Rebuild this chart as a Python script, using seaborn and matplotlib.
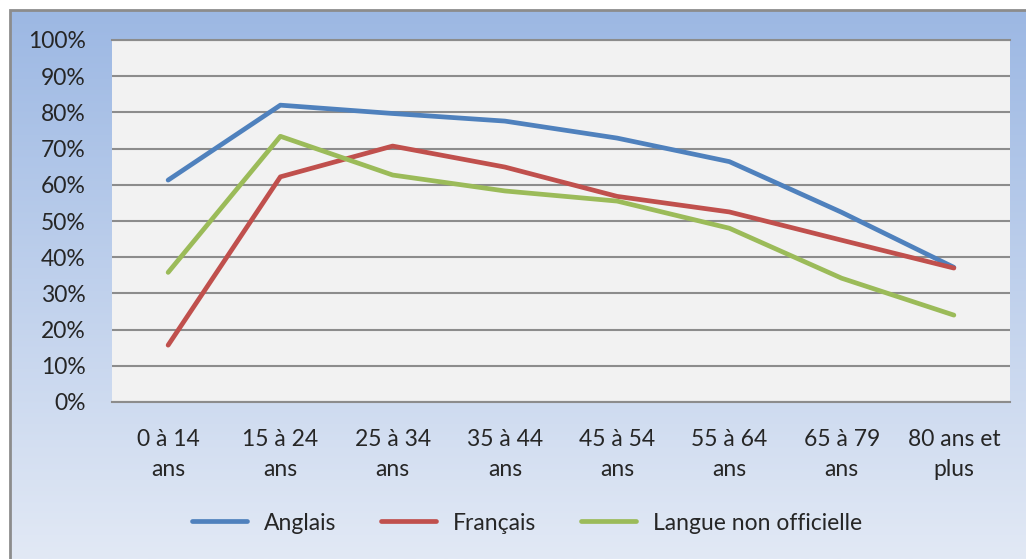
import numpy as np
import pandas as pd
import seaborn as sns
import matplotlib.pyplot as plt
from matplotlib.patches import Rectangle

age_groups = ['0 à 14\nans', '15 à 24\nans', '25 à 34\nans', '35 à 44\nans',
              '45 à 54\nans', '55 à 64\nans', '65 à 79\nans', '80 ans et\nplus']
anglais = [61.3, 82.0, 79.7, 77.6, 72.9, 66.4, 52.4, 37.2]
francais = [15.7, 62.2, 70.7, 64.9, 56.8, 52.5, 44.7, 37.0]
non_officielle = [35.8, 73.4, 62.7, 58.3, 55.5, 48.0, 34.2, 24.0]
series_names = ['Anglais', 'Français', 'Langue non officielle']
colors = ['#4F81BD', '#C0504D', '#9BBB59']

df = pd.DataFrame({
    'groupe': list(range(len(age_groups))) * 3,
    'valeur': anglais + francais + non_officielle,
    'langue': [s for s in series_names for _ in age_groups],
})

sns.set_style('white')
plt.rcParams['font.family'] = ['Lato', 'DejaVu Sans']
FS = 16.5

W, H = 1026, 559
fig = plt.figure(figsize=(W / 100, H / 100), dpi=100)

# background gradient
bg = fig.add_axes([0, 0, 1, 1], zorder=-10)
grad = np.linspace(0, 1, 256).reshape(-1, 1)
top = np.array([0x9B, 0xB7, 0xE3]) / 255
bot = np.array([0xE2, 0xE9, 0xF5]) / 255
img = top + (bot - top) * grad[:, :, None]
bg.imshow(img, aspect='auto', extent=[0, 1, 0, 1])
bg.set_xlim(0, 1)
bg.set_ylim(0, 1)
bg.axis('off')
fig.patches.append(Rectangle((10 / W, -0.1), 1.2, 1 - 10 / H + 0.1, transform=fig.transFigure,
                             fill=False, edgecolor='#8C8C8C', linewidth=2))
# white margin outside frame
fig.patches.append(Rectangle((0, 0), 9 / W, 1, transform=fig.transFigure, color='white', zorder=-5))
fig.patches.append(Rectangle((0, 1 - 9 / H), 1, 9 / H, transform=fig.transFigure, color='white', zorder=-5))

ax = fig.add_axes([112 / W, 1 - 402 / H, 898 / W, 362 / H])
ax.set_facecolor('#F2F2F2')
sns.lineplot(data=df, x='groupe', y='valeur', hue='langue', palette=colors,
             linewidth=3.4, ax=ax, legend=False, solid_capstyle='round')

ax.set_xlim(-0.5, len(age_groups) - 0.5)
ax.set_ylim(0, 100)
ax.set_yticks(range(0, 101, 10))
ax.set_yticklabels([f'{v}%' for v in range(0, 101, 10)], fontsize=FS)
ax.set_xticks(range(len(age_groups)))
ax.set_xticklabels(age_groups, fontsize=FS, linespacing=1.5)
ax.tick_params(axis='y', length=0, pad=19)
ax.tick_params(axis='x', length=0, pad=19.5)
ax.grid(axis='y', color='#8C8C8C', linewidth=1.5)
ax.set_axisbelow(True)
for s in ['left', 'right']:
    ax.spines[s].set_visible(False)
for s in ['top', 'bottom']:
    ax.spines[s].set_color('#8C8C8C')
    ax.spines[s].set_linewidth(1.5)
ax.set_xlabel('')
ax.set_ylabel('')

handles = [plt.Line2D([], [], color=c, linewidth=3.4, solid_capstyle='round') for c in colors]
fig.legend(handles, series_names, loc='center', bbox_to_anchor=(527 / W, 1 - 523 / H),
           ncol=3, frameon=False, fontsize=FS, handlelength=2.4, columnspacing=1.95,
           handletextpad=0.75)

fig.savefig('out.png', dpi=100)
